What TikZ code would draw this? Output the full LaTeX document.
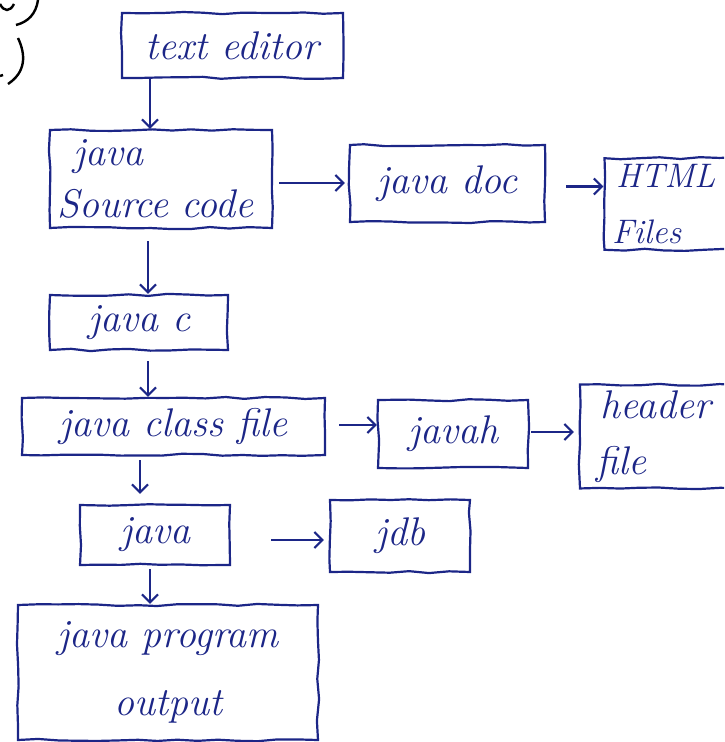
\documentclass[tikz,border=0pt]{standalone}
\usetikzlibrary{arrows.meta,decorations.pathmorphing}
\definecolor{ink}{RGB}{28,38,135}
\tikzset{
  box/.style={draw=ink, text=ink, line width=1.1pt, inner sep=3pt,
    font=\itshape\fontsize{20}{24}\selectfont,
    decorate, decoration={random steps,segment length=10pt,amplitude=0.6pt}},
  flow/.style={draw=ink, line width=1.1pt, -{Straight Barb[length=4pt,width=8pt]}},
}
\begin{document}
\begin{tikzpicture}[x=0.5pt,y=-0.5pt]
    \clip (0,0) rectangle (724,742);
    % stray marks at the top left
    \draw[black,line width=1.2pt] (38,0) .. controls (36,14) and (28,22) .. (16,25);
    \draw[black,line width=1.2pt] (0,4) .. controls (4,12) and (10,12) .. (14,4);
    \draw[black,line width=1.2pt] (18,38) .. controls (26,55) and (26,72) .. (8,84);
    \draw[black,line width=1.2pt] (0,76) -- (3,75);
    % boxes
    \node[box, minimum width=110.5pt, minimum height=32.5pt] (editor) at (232.5,45.5) {text editor};
    \node[box, minimum width=111pt, minimum height=49pt, text width=104pt, align=left] (source) at (161,179)
        {\hspace*{8pt}java\\[2pt]Source code};
    \node[box, minimum width=97.5pt, minimum height=38.5pt] (javadoc) at (447.5,183.5) {java doc};
    \node[box, minimum width=77.5pt, minimum height=44pt, text width=70pt, align=left,
        font=\itshape\fontsize{17}{21}\selectfont] (html) at (682,204)
        {\hspace*{2pt}HTML\\[7pt]Files};
    \node[box, minimum width=89pt, minimum height=27.5pt] (javac) at (139,322.5) {java c};
    \node[box, minimum width=151.5pt, minimum height=28.5pt] (classfile) at (173.5,426.5) {java class file};
    \node[box, minimum width=75pt, minimum height=34pt] (javah) at (453,434) {javah};
    \node[box, minimum width=90pt, minimum height=51.5pt, text width=74pt, align=left] (header) at (670,436.5)
        {\hspace*{2pt}header\\[4pt]file};
    \node[box, minimum width=75pt, minimum height=30pt] (java) at (155,535) {java};
    \node[box, minimum width=70pt, minimum height=36pt] (jdb) at (400,536) {jdb};
    \node[box, minimum width=150pt, minimum height=67.5pt, align=center] (output) at (168,672.5)
        {java program\\[10pt]output};
    % arrows
    \draw[flow] ([xshift=-41.25pt]editor.south) -- ([xshift=-41.25pt]editor.south |- source.north);
    \draw[flow, shorten <=3pt, shorten >=2pt] ([yshift=-2pt]source.east) -- ([yshift=-2pt]source.east -| javadoc.west);
    \draw[flow, shorten <=10pt] ([yshift=-1.5pt]javadoc.east) -- ([yshift=-1.5pt]javadoc.east -| html.west);
    \draw[flow, shorten <=6pt] ([xshift=-6.5pt]source.south) -- ([xshift=-6.5pt]source.south |- javac.north);
    \draw[flow, shorten <=5pt] ([xshift=4.5pt]javac.south) -- ([xshift=4.5pt]javac.south |- classfile.north);
    \draw[flow, shorten <=6.5pt] ([yshift=0.75pt]classfile.east) -- ([yshift=0.75pt]classfile.east -| javah.west);
    \draw[flow, shorten <=1pt, shorten >=2.5pt] ([yshift=1pt]javah.east) -- ([yshift=1pt]javah.east -| header.west);
    \draw[flow, shorten <=2pt, shorten >=5pt] ([xshift=-16.75pt]classfile.south) -- ([xshift=-16.75pt]classfile.south |- java.north);
    \draw[flow, shorten <=20pt, shorten >=2.5pt] ([yshift=-2.5pt]java.east) -- ([yshift=-2.5pt]java.east -| jdb.west);
    \draw[flow, shorten <=1.5pt] ([xshift=-2.5pt]java.south) -- ([xshift=-2.5pt]java.south |- output.north);
\end{tikzpicture}
\end{document}
